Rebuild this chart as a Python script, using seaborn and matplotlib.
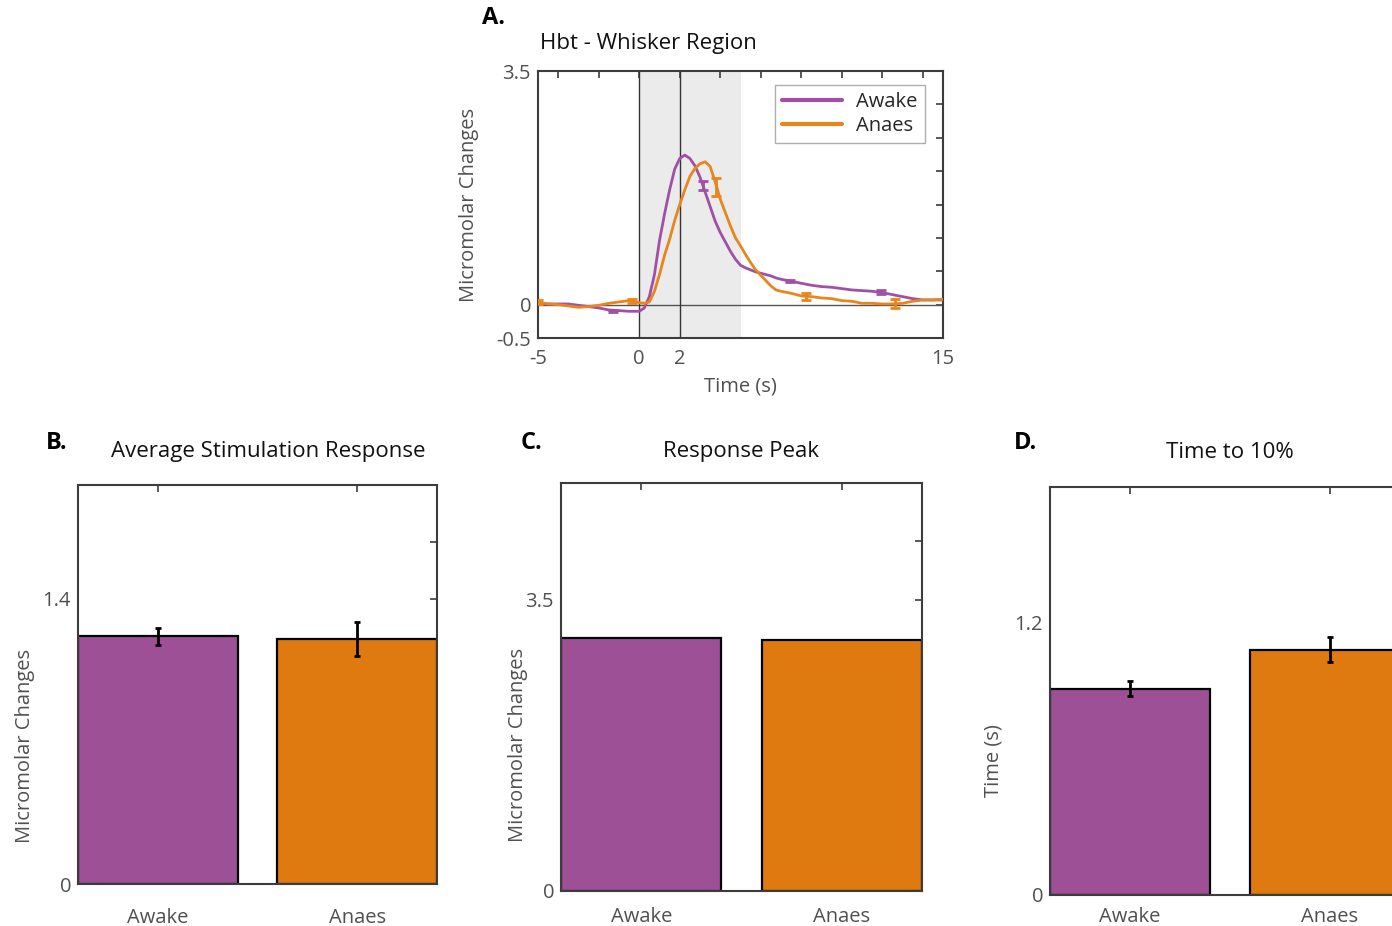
import matplotlib
matplotlib.use("Agg")
import matplotlib.pyplot as plt
from matplotlib.ticker import FixedLocator, FixedFormatter
import pandas as pd
import seaborn as sns

# ---- time course of total haemoglobin (Hbt), whisker region ----
time_s = [-5, -4.5, -4, -3.5, -3, -2.5, -2, -1.5, -1, -0.5, 0,
          0.25, 0.5, 0.75, 1, 1.25, 1.5, 1.75, 2, 2.25, 2.5, 2.75, 3, 3.25, 3.5,
          3.75, 4, 4.25, 4.5, 4.75, 5, 5.25, 5.5, 5.75, 6, 6.25, 6.5, 6.75, 7,
          7.5, 8, 8.5, 9, 9.5, 10, 10.5, 11, 11.5, 12, 12.5, 13, 13.5, 14, 14.5, 15]
awake_hbt = [0.00, 0.01, 0.01, 0.01, -0.01, -0.03, -0.05, -0.08, -0.09, -0.10, -0.10,
             -0.05, 0.12, 0.45, 0.96, 1.36, 1.72, 2.03, 2.19, 2.24, 2.19, 2.08, 1.91, 1.69, 1.47,
             1.25, 1.08, 0.94, 0.80, 0.68, 0.59, 0.55, 0.52, 0.49, 0.47, 0.45, 0.43, 0.40, 0.38,
             0.35, 0.32, 0.29, 0.27, 0.26, 0.24, 0.22, 0.21, 0.20, 0.18, 0.15, 0.12, 0.09, 0.07, 0.07, 0.07]
anaes_hbt = [0.04, 0.01, 0.00, -0.02, -0.04, -0.03, -0.01, 0.02, 0.04, 0.06, 0.03,
             0.02, 0.04, 0.20, 0.45, 0.74, 0.98, 1.26, 1.50, 1.72, 1.92, 2.04, 2.11, 2.14, 2.07,
             1.84, 1.58, 1.38, 1.18, 1.00, 0.88, 0.75, 0.63, 0.52, 0.44, 0.36, 0.28, 0.22, 0.20,
             0.17, 0.13, 0.12, 0.10, 0.09, 0.06, 0.05, 0.02, 0.02, 0.01, 0.01, 0.02, 0.05, 0.07, 0.07, 0.08]

# sparse SEM markers along each trace
awake_err_t = [-1.3, 3.13, 7.45, 11.95]
awake_err_v = [-0.09, 1.78, 0.35, 0.19]
awake_err_e = [0.015, 0.07, 0.015, 0.025]
anaes_err_t = [-5.0, -0.35, 3.8, 8.25, 12.65]
anaes_err_v = [0.04, 0.05, 1.76, 0.12, 0.02]
anaes_err_e = [0.03, 0.03, 0.14, 0.05, 0.07]

# ---- summary measures ----
conditions = ["Awake", "Anaes"]
avg_response = [1.217, 1.204]
avg_response_sem = [0.043, 0.082]
peak_response = [3.04, 3.02]
time_to_10 = [0.91, 1.083]
time_to_10_sem = [0.034, 0.056]

BAR_PURPLE = "#9e5096"
BAR_ORANGE = "#de7a10"
LINE_PURPLE = "#a24fa6"
LINE_ORANGE = "#e8851c"
BOX = "#3c3c3c"
TICK_TXT = "#505050"
FS = 14.5

sns.set_theme(style="white")
plt.rcParams["font.family"] = ["Open Sans", "DejaVu Sans"]

W, H = 1392, 926
fig = plt.figure(figsize=(W / 100, H / 100), dpi=100)


def px_axes(x0, y0, x1, y1):
    return fig.add_axes([x0 / W, 1 - y1 / H, (x1 - x0) / W, (y1 - y0) / H])


def fig_text(x, y, s, **kw):
    fig.text(x / W, 1 - y / H, s, **kw)


def box_style(ax):
    for sp in ax.spines.values():
        sp.set_visible(True)
        sp.set_color(BOX)
        sp.set_linewidth(1.5)
    ax.tick_params(which="both", direction="in", length=5, width=1.2, color=BOX,
                   top=True, right=True, labelsize=FS, labelcolor=TICK_TXT)


def fmt(v):
    return f"{v:g}"


# ================= A: time course =================
axA = px_axes(538, 71, 943, 338)
axA.axvspan(0, 5, color="#ebebeb", zorder=0, lw=0)
axA.axhline(0, color="#555555", lw=1, zorder=1)
axA.axvline(0, color="#333333", lw=1, zorder=1)
axA.axvline(2, color="#333333", lw=1, zorder=1)

traces = pd.DataFrame({"Time": time_s * 2,
                       "Hbt": awake_hbt + anaes_hbt,
                       "Condition": ["Awake"] * len(time_s) + ["Anaes"] * len(time_s)})
sns.lineplot(data=traces, x="Time", y="Hbt", hue="Condition",
             palette={"Awake": LINE_PURPLE, "Anaes": LINE_ORANGE},
             linewidth=2, ax=axA, zorder=3)
axA.errorbar(awake_err_t, awake_err_v, yerr=awake_err_e, fmt="none",
             ecolor=LINE_PURPLE, elinewidth=2, capsize=3.5, capthick=2, zorder=4)
axA.errorbar(anaes_err_t, anaes_err_v, yerr=anaes_err_e, fmt="none",
             ecolor=LINE_ORANGE, elinewidth=2, capsize=3.5, capthick=2, zorder=4)

axA.set_xlim(-5, 15)
axA.set_ylim(-0.5, 3.5)
box_style(axA)
xl = [-5, 0, 2, 15]
yl = [-0.5, 0, 3.5]
axA.xaxis.set_major_locator(FixedLocator(xl))
axA.xaxis.set_major_formatter(FixedFormatter([fmt(v) for v in xl]))
axA.xaxis.set_minor_locator(FixedLocator([-4, -2, 4, 6, 8, 10, 12, 14]))
axA.yaxis.set_major_locator(FixedLocator(yl))
axA.yaxis.set_major_formatter(FixedFormatter([fmt(v) for v in yl]))
axA.yaxis.set_minor_locator(FixedLocator([0.5, 1, 1.5, 2, 2.5, 3]))
axA.tick_params(axis="x", pad=8)
axA.tick_params(axis="y", pad=5)
axA.set_xlabel("Time (s)", fontsize=FS, color=TICK_TXT, labelpad=5)
axA.set_ylabel("Micromolar Changes", fontsize=FS, color=TICK_TXT, labelpad=12.5)

leg = axA.legend(loc="upper right", bbox_to_anchor=(0.955, 0.948), borderaxespad=0,
                 handlelength=3.0, fontsize=FS, frameon=True, fancybox=False,
                 borderpad=0.35, labelspacing=0.2, handletextpad=0.7)
leg.get_frame().set_edgecolor("#9a9a9a")
leg.get_frame().set_linewidth(1)
for line in leg.get_lines():
    line.set_linewidth(3)

fig_text(482, 18, "A.", fontsize=17, fontweight="bold", va="center", ha="left", color="black")
fig_text(540, 43, "Hbt - Whisker Region", fontsize=16, va="center", ha="left", color="#111111")


# ================= bar panels =================
def bar_panel(rect, values, sem, ylim_top, step, labelled, ylabel, ylab_xy,
              title, title_x, xpad):
    ax = px_axes(*rect)
    sns.barplot(x=conditions, y=values, hue=conditions,
                palette=[BAR_PURPLE, BAR_ORANGE], saturation=1, legend=False,
                width=0.8, edgecolor="black", linewidth=1.6, ax=ax, zorder=2)
    if sem is not None:
        ax.errorbar([0, 1], values, yerr=sem, fmt="none", ecolor="black",
                    elinewidth=2, capsize=2, capthick=2, zorder=4)
    ax.set_xlim(-0.4, 1.4)
    ax.set_ylim(0, ylim_top)
    box_style(ax)
    ticks = [round(step * k, 4) for k in range(int(round(ylim_top / step)) + 1)]
    ax.yaxis.set_major_locator(FixedLocator(labelled))
    ax.yaxis.set_major_formatter(FixedFormatter([fmt(v) for v in labelled]))
    ax.yaxis.set_minor_locator(FixedLocator([t for t in ticks if t not in labelled]))
    ax.tick_params(axis="x", pad=xpad)
    ax.tick_params(axis="y", pad=5)
    ax.set_xlabel("")
    ax.set_ylabel(ylabel, fontsize=FS, color=TICK_TXT)
    ax.yaxis.set_label_coords(*ylab_xy)
    fig_text(title_x, 452, title, fontsize=16, ha="center", va="center", color="#111111")
    return ax


axB = bar_panel((78, 485, 437, 884), avg_response, avg_response_sem, 1.96, 0.28, [0, 1.4],
                "Micromolar Changes", (-0.12, 0.346), "Average Stimulation Response", 268, 17)
axC = bar_panel((561, 483, 922, 891), peak_response, None, 4.9, 0.7, [0, 3.5],
                "Micromolar Changes", (-0.092, 0.357), "Response Peak", 741, 11.5)
axD = bar_panel((1050, 487, 1410, 895), time_to_10, time_to_10_sem, 1.8, 0.3, [0, 1.2],
                "Time (s)", (-0.13, 0.33), "Time to 10%", 1230, 8.5)

for x, s in [(46, "B."), (521, "C."), (1014, "D.")]:
    fig_text(x, 443, s, fontsize=17, fontweight="bold", ha="left", va="center", color="black")

fig.savefig("out.png", dpi=100)
